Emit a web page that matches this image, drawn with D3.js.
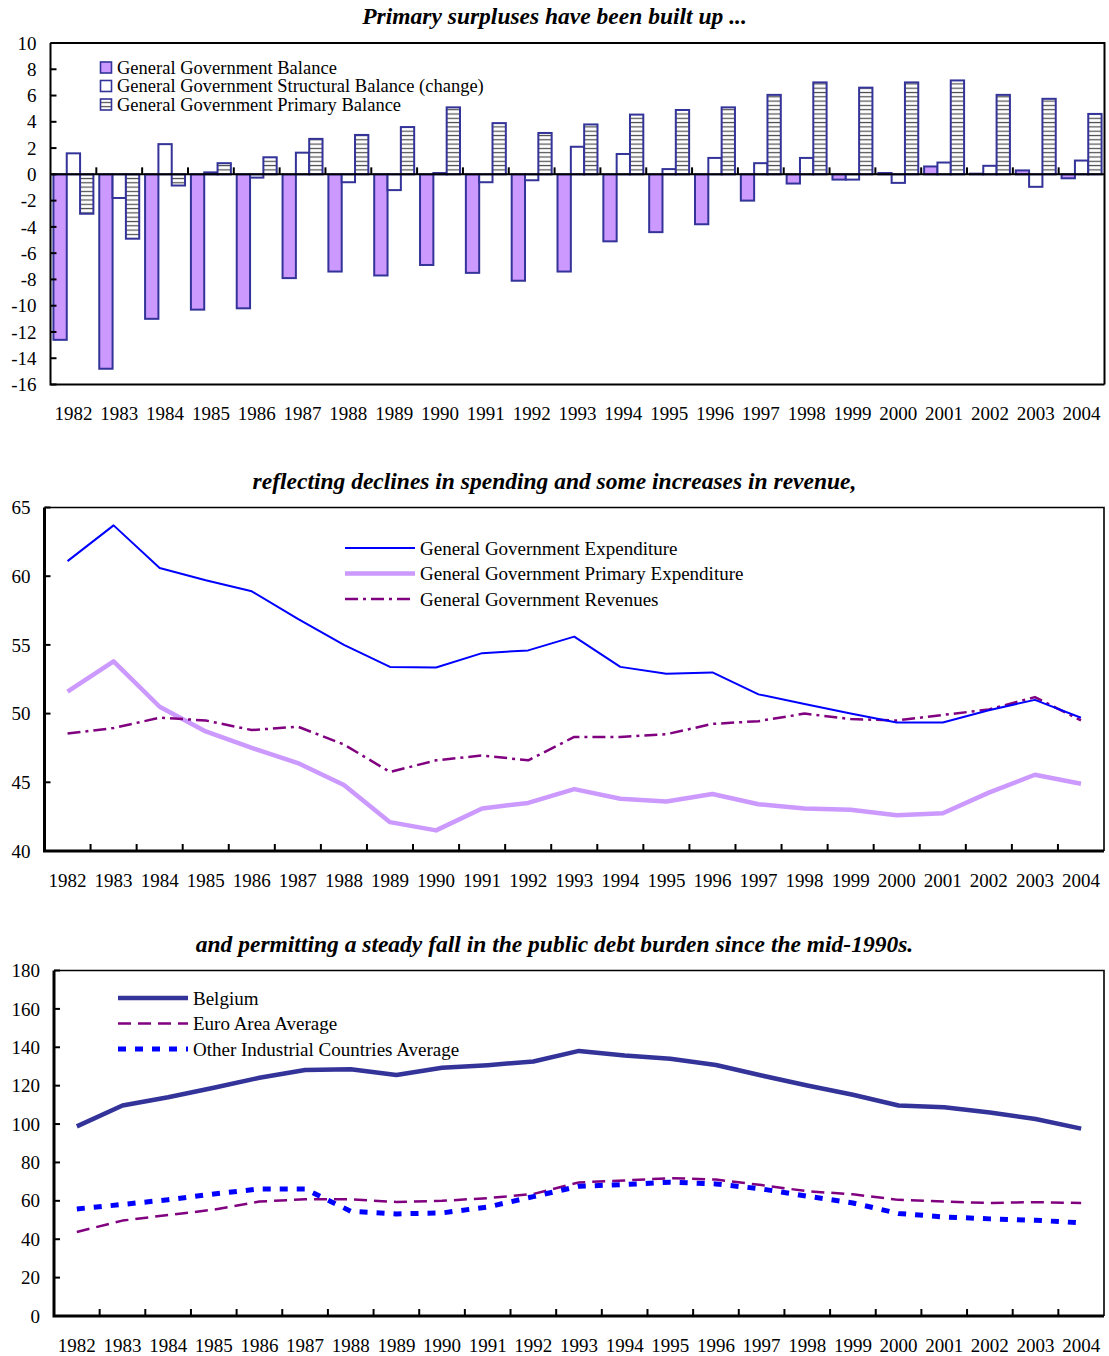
<!DOCTYPE html>
<html>
<head>
<meta charset="utf-8">
<script src="https://cdn.jsdelivr.net/npm/d3@7"></script>
<style>
  html, body { margin: 0; padding: 0; background: #fff; }
  svg text { font-family: "Liberation Serif", "Times New Roman", serif; fill: #000; }
</style>
</head>
<body>
<div id="chart"></div>
<script>
// ---- Data -------------------------------------------------------------
const years = ["1982","1983","1984","1985","1986","1987","1988","1989","1990","1991","1992",
               "1993","1994","1995","1996","1997","1998","1999","2000","2001","2002","2003","2004"];

// Panel 1: balances (% of GDP)
const balanceSeries = ["General Government Balance",
                       "General Government Structural Balance (change)",
                       "General Government Primary Balance"];
const govBalance = [-12.6,-14.8,-11.0,-10.3,-10.2,-7.9,-7.4,-7.7,-6.9,-7.5,-8.1,
                    -7.4,-5.1,-4.4,-3.8,-2.0,-0.7,-0.4,0.1,0.6,0.05,0.3,-0.3];
const structuralChange = [1.6,-1.8,2.3,0.15,-0.25,1.65,-0.6,-1.2,0.1,-0.6,-0.45,
                          2.1,1.55,0.4,1.25,0.85,1.25,-0.4,-0.65,0.9,0.65,-0.95,1.05];
const primaryBalance = [-3.0,-4.9,-0.85,0.85,1.3,2.7,3.0,3.6,5.1,3.9,3.15,
                        3.8,4.55,4.9,5.1,6.05,7.0,6.6,7.0,7.15,6.05,5.75,4.6];
const balanceTicks = [10,8,6,4,2,0,-2,-4,-6,-8,-10,-12,-14,-16];

// Panel 2: spending and revenue (% of GDP)
const spendSeries = ["General Government Expenditure",
                     "General Government Primary Expenditure",
                     "General Government Revenues"];
const expenditure = [61.1,63.7,60.6,59.7,58.9,56.9,55.0,53.4,53.35,54.4,54.6,
                     55.6,53.4,52.9,53.0,51.4,50.7,50.0,49.35,49.35,50.25,51.0,49.7];
const primaryExpenditure = [51.6,53.8,50.5,48.7,47.5,46.4,44.8,42.1,41.5,43.1,43.5,
                            44.5,43.8,43.6,44.15,43.4,43.1,43.0,42.6,42.75,44.25,45.55,44.9];
const revenues = [48.55,48.95,49.7,49.5,48.8,49.05,47.75,45.75,46.6,46.95,46.6,
                  48.3,48.3,48.5,49.25,49.45,50.0,49.6,49.5,49.9,50.3,51.2,49.5];
const spendTicks = [65,60,55,50,45,40];

// Panel 3: public debt (% of GDP)
const debtSeries = ["Belgium", "Euro Area Average", "Other Industrial Countries Average"];
const debtBelgium = [98.8,109.7,114.0,118.9,124.1,128.2,128.6,125.6,129.3,130.7,132.6,
                     138.1,135.7,134.0,130.8,125.3,120.1,115.3,109.7,108.8,106.0,102.6,97.6];
const debtEuroArea = [43.8,49.7,52.6,55.4,59.6,60.8,60.8,59.4,60.0,61.4,63.6,
                      69.6,70.6,71.8,71.1,68.2,65.0,63.4,60.5,59.6,58.9,59.3,58.9];
const debtOtherIndustrial = [55.8,58.1,60.6,63.6,66.2,66.2,54.6,53.2,53.7,56.8,62.2,
                             67.6,68.5,69.7,68.8,66.2,62.4,58.9,53.4,51.6,50.6,49.9,48.5];
const debtTicks = [180,160,140,120,100,80,60,40,20,0];

const titles = ["Primary surpluses have been built up ...",
                "reflecting declines in spending and some increases in revenue,",
                "and permitting a steady fall in the public debt burden since the mid-1990s."];

// ---- Drawing ----------------------------------------------------------
const W = 1109, H = 1356;
const FONT = 19;
const LEGEND1_FONT = 18.5;
const TITLE_FONT = 23.5;
const svg = d3.select("#chart").append("svg")
  .attr("width", W).attr("height", H)
  .attr("viewBox", `0 0 ${W} ${H}`);

const defs = svg.append("defs");
const stripes = defs.append("pattern")
  .attr("id", "hstripes")
  .attr("patternUnits", "userSpaceOnUse")
  .attr("width", 8).attr("height", 4.3);
stripes.append("rect").attr("width", 8).attr("height", 4.3).attr("fill", "#fff");
stripes.append("rect").attr("y", 1.6).attr("width", 8).attr("height", 1.2).attr("fill", "#4a4a4a");

// Shared frame: inward y ticks, y labels, year labels, title
function frame(g, box, y, ticks, x, tickBaseY, title) {
  const { left, right, top, bottom } = box;

  // y ticks (pointing inward) + labels
  g.append("g").selectAll("line").data(ticks).join("line")
    .attr("x1", left).attr("x2", left + 6)
    .attr("y1", d => y(d)).attr("y2", d => y(d))
    .attr("stroke", "#000").attr("stroke-width", 2);
  g.append("g").selectAll("text").data(ticks).join("text")
    .attr("x", left - 14).attr("y", d => y(d))
    .attr("dy", "0.35em").attr("text-anchor", "end")
    .attr("font-size", FONT).text(d => d);

  // x ticks at category boundaries (pointing up)
  const bounds = x.domain().slice(1).map(d => x(d));
  g.append("g").selectAll("line").data(bounds).join("line")
    .attr("x1", d => d).attr("x2", d => d)
    .attr("y1", tickBaseY).attr("y2", tickBaseY - 7)
    .attr("stroke", "#000").attr("stroke-width", 2);

  // year labels
  g.append("g").selectAll("text").data(x.domain()).join("text")
    .attr("x", d => x(d) + x.bandwidth() / 2).attr("y", bottom + 29)
    .attr("dy", "0.35em").attr("text-anchor", "middle")
    .attr("font-size", FONT).text(d => d);

  // title, centred on the page
  g.append("text")
    .attr("x", W / 2).attr("y", top - 27)
    .attr("dy", "0.35em").attr("text-anchor", "middle")
    .attr("font-size", TITLE_FONT).attr("font-weight", "bold").attr("font-style", "italic")
    .text(title);
}

function border(g, box, thick) {
  const { left, right, top, bottom } = box;
  g.append("path")
    .attr("d", `M${left},${top}H${right}V${bottom}`)
    .attr("fill", "none").attr("stroke", "#000").attr("stroke-width", thick ? 2 : 1.6);
  g.append("path")
    .attr("d", `M${left},${top}V${bottom}H${right}`)
    .attr("fill", "none").attr("stroke", "#000").attr("stroke-width", thick ? 2 : 3);
}

// ---------- Panel 1: grouped bars ----------
(function () {
  const box = { left: 50.5, right: 1104.5, top: 43, bottom: 384.5 };
  const g = svg.append("g");
  const x = d3.scaleBand().domain(years).range([box.left, box.right]);
  const y = d3.scaleLinear().domain([-16, 10]).range([box.bottom, box.top]);
  const x1 = d3.scaleBand().domain([0, 1, 2]).range([0, x.bandwidth()])
    .paddingInner(0).paddingOuter(0.22);

  const fills = ["#cc99ff", "#ffffff", "url(#hstripes)"];
  const values = [govBalance, structuralChange, primaryBalance];

  values.forEach((vals, s) => {
    g.append("g").selectAll("rect").data(years.map((yr, i) => ({ yr, v: vals[i] })))
      .join("rect")
      .attr("x", d => x(d.yr) + x1(s))
      .attr("width", x1.bandwidth())
      .attr("y", d => y(Math.max(0, d.v)))
      .attr("height", d => Math.abs(y(d.v) - y(0)))
      .attr("fill", fills[s])
      .attr("stroke", "#333399").attr("stroke-width", 2);
  });

  // zero line
  g.append("line")
    .attr("x1", box.left).attr("x2", box.right)
    .attr("y1", y(0)).attr("y2", y(0))
    .attr("stroke", "#000").attr("stroke-width", 2);

  border(g, box, true);
  frame(g, box, y, balanceTicks, x, y(0), titles[0]);

  // legend
  const lg = g.append("g").attr("transform", "translate(100,67.5)");
  balanceSeries.forEach((name, i) => {
    const row = lg.append("g").attr("transform", `translate(0,${i * 18.5})`);
    row.append("rect").attr("x", 0.5).attr("y", -5.5).attr("width", 11).attr("height", 11)
      .attr("fill", fills[i]).attr("stroke", "#333399").attr("stroke-width", 1.6);
    row.append("text").attr("x", 17).attr("y", 0).attr("dy", "0.35em")
      .attr("font-size", LEGEND1_FONT).text(name);
  });
})();

// ---------- Panel 2: spending & revenue lines ----------
(function () {
  const box = { left: 44.5, right: 1104, top: 507.5, bottom: 851 };
  const g = svg.append("g");
  const x = d3.scaleBand().domain(years).range([box.left, box.right]);
  const y = d3.scaleLinear().domain([40, 65]).range([box.bottom, box.top]);
  const cx = d => x(d) + x.bandwidth() / 2;

  const styles = [
    { data: expenditure, color: "#0000ff", width: 2, dash: null },
    { data: primaryExpenditure, color: "#cc99ff", width: 4.5, dash: null },
    { data: revenues, color: "#800080", width: 2.5, dash: "13,5,3,5" }
  ];
  const line = d3.line().x((d, i) => cx(years[i])).y(d => y(d));
  // thick primary line first so the others sit above it
  [1, 2, 0].forEach(k => {
    const s = styles[k];
    g.append("path").datum(s.data).attr("d", line)
      .attr("fill", "none").attr("stroke", s.color).attr("stroke-width", s.width)
      .attr("stroke-dasharray", s.dash).attr("stroke-linejoin", "round");
  });

  border(g, box, false);
  frame(g, box, y, spendTicks, x, box.bottom, titles[1]);

  const lg = g.append("g").attr("transform", "translate(345,548)");
  spendSeries.forEach((name, i) => {
    const s = styles[i];
    const row = lg.append("g").attr("transform", `translate(0,${i * 25.5})`);
    row.append("line").attr("x1", 0).attr("x2", 70).attr("y1", 0).attr("y2", 0)
      .attr("stroke", s.color).attr("stroke-width", s.width).attr("stroke-dasharray", s.dash);
    row.append("text").attr("x", 75).attr("y", 0).attr("dy", "0.35em")
      .attr("font-size", FONT).text(name);
  });
})();

// ---------- Panel 3: public debt lines ----------
(function () {
  const box = { left: 54, right: 1104, top: 970.5, bottom: 1316 };
  const g = svg.append("g");
  const x = d3.scaleBand().domain(years).range([box.left, box.right]);
  const y = d3.scaleLinear().domain([0, 180]).range([box.bottom, box.top]);
  const cx = d => x(d) + x.bandwidth() / 2;

  const styles = [
    { data: debtBelgium, color: "#333399", width: 4.5, dash: null },
    { data: debtEuroArea, color: "#800080", width: 2.5, dash: "13,7" },
    { data: debtOtherIndustrial, color: "#0000ff", width: 5, dash: "8,9" }
  ];
  const line = d3.line().x((d, i) => cx(years[i])).y(d => y(d));
  [1, 2, 0].forEach(k => {
    const s = styles[k];
    g.append("path").datum(s.data).attr("d", line)
      .attr("fill", "none").attr("stroke", s.color).attr("stroke-width", s.width)
      .attr("stroke-dasharray", s.dash).attr("stroke-linejoin", "round");
  });

  border(g, box, false);
  frame(g, box, y, debtTicks, x, box.bottom, titles[2]);

  const lg = g.append("g").attr("transform", "translate(118,998)");
  debtSeries.forEach((name, i) => {
    const s = styles[i];
    const row = lg.append("g").attr("transform", `translate(0,${i * 25.5})`);
    row.append("line").attr("x1", 0).attr("x2", 70).attr("y1", 0).attr("y2", 0)
      .attr("stroke", s.color).attr("stroke-width", s.width).attr("stroke-dasharray", s.dash);
    row.append("text").attr("x", 75).attr("y", 0).attr("dy", "0.35em")
      .attr("font-size", FONT).text(name);
  });
})();
</script>
</body>
</html>
